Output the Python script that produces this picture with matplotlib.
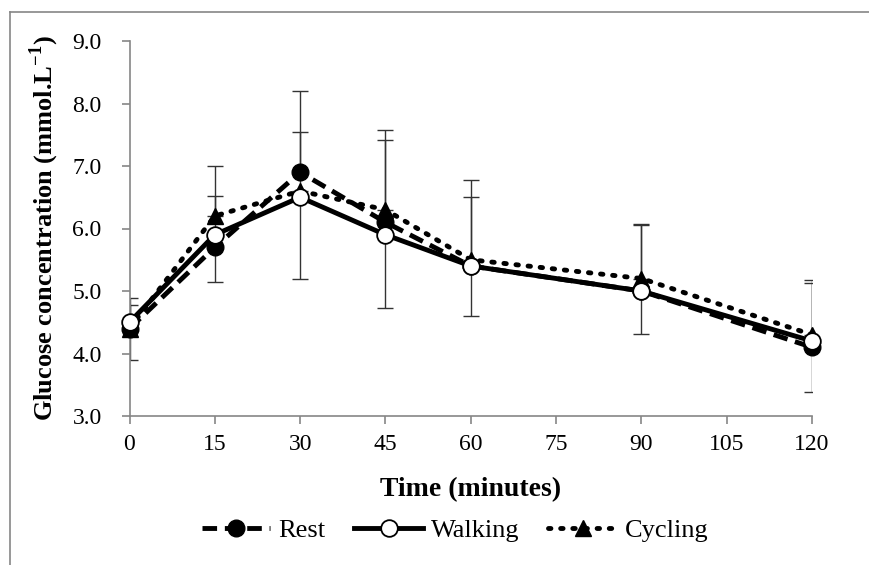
import matplotlib
matplotlib.use("Agg")
import matplotlib.pyplot as plt
from matplotlib.lines import Line2D

plt.rcParams['font.family'] = ['Liberation Serif', 'DejaVu Serif']
plt.rcParams['mathtext.fontset'] = 'custom'
plt.rcParams['mathtext.rm'] = 'Liberation Serif'
plt.rcParams['mathtext.bf'] = 'Liberation Serif:bold'

time = [0, 15, 30, 45, 60, 90, 120]
rest = [4.4, 5.7, 6.9, 6.1, 5.4, 5.0, 4.1]
walking = [4.5, 5.9, 6.5, 5.9, 5.4, 5.0, 4.2]
cycling = [4.4, 6.2, 6.6, 6.3, 5.5, 5.2, 4.3]
rest_err_up = [0.48, 0.82, 1.3, 1.48, 1.38, 1.08, 1.08]
cycling_err_up = [0.38, 0.8, 0.95, 1.12, 1.0, 0.85, 0.83]
walking_err_down = [0.6, 0.75, 1.3, 1.17, 0.8, 0.68, 0.82]
xticks = [0, 15, 30, 45, 60, 75, 90, 105, 120]
yticks = [3.0, 4.0, 5.0, 6.0, 7.0, 8.0, 9.0]

fig = plt.figure(figsize=(8.69, 5.65), dpi=100)
ax = fig.add_axes([129.5/869, 1-416/565, (812-129.5)/869, (416-41)/565])

ecol = '#333333'
zero = [0]*len(time)
ax.errorbar(time, rest, yerr=[zero, rest_err_up], fmt='none', ecolor=ecol,
            elinewidth=1.0, capsize=6, capthick=1.0, zorder=1)
ax.errorbar(time, cycling, yerr=[zero, cycling_err_up], fmt='none', ecolor=ecol,
            elinewidth=1.0, capsize=6, capthick=1.0, zorder=1)
ax.errorbar(time, walking, yerr=[walking_err_down, zero], fmt='none', ecolor=ecol,
            elinewidth=1.0, capsize=6, capthick=1.0, zorder=1)

ax.plot(time, cycling, color='black', linestyle=(0, (0.5, 2.0)), dash_capstyle='round',
        linewidth=3.5, marker='^', markersize=12, markerfacecolor='black',
        markeredgecolor='black', label='Cycling', zorder=3, clip_on=False)
ax.plot(time, rest, color='black', linestyle=(0, (3, 1.6)), linewidth=3.5,
        marker='o', markersize=12, markerfacecolor='black', markeredgecolor='black',
        label='Rest', zorder=4, clip_on=False)
ax.plot(time, walking, color='black', linestyle='-', linewidth=3.5,
        marker='o', markersize=12, markerfacecolor='white', markeredgecolor='black',
        markeredgewidth=1.3, label='Walking', zorder=5, clip_on=False)

ax.set_xlim(0, 120)
ax.set_ylim(3.0, 9.0)
ax.set_xticks(xticks)
ax.set_xticklabels([str(t) for t in xticks])
ax.set_yticks(yticks)
ax.set_yticklabels([f"{v:.1f}" for v in yticks])
ax.spines['top'].set_visible(False)
ax.spines['right'].set_visible(False)
for s in ['left', 'bottom']:
    ax.spines[s].set_color('#868686')
    ax.spines[s].set_linewidth(1.2)
ax.tick_params(axis='both', colors='#868686', length=6, width=1.2, labelsize=17,
               labelcolor='black', direction='out')
ax.tick_params(axis='x', pad=7)
ax.tick_params(axis='y', pad=14)
ax.set_xlabel('Time (minutes)', fontsize=20, fontweight='bold', labelpad=16)
ax.set_ylabel(r'Glucose concentration (mmol.L$^{\mathbf{-1}}$)', fontsize=19,
              fontweight='bold', labelpad=8)

handles, labels = ax.get_legend_handles_labels()
order = [labels.index(n) for n in ['Rest', 'Walking', 'Cycling']]
leg = fig.legend([handles[i] for i in order], [labels[i] for i in order],
                 loc='center', bbox_to_anchor=(455/869, 1-530/565), ncol=3,
                 frameon=False, fontsize=19, handlelength=2.6, columnspacing=1.1,
                 handletextpad=0.3)

fig.add_artist(Line2D([10/869, 10/869], [0, 1-12/565], transform=fig.transFigure,
                      color='#868686', linewidth=1.2))
fig.add_artist(Line2D([10/869, 1], [1-12/565, 1-12/565], transform=fig.transFigure,
                      color='#868686', linewidth=1.2))

fig.savefig('out.png', dpi=100)
